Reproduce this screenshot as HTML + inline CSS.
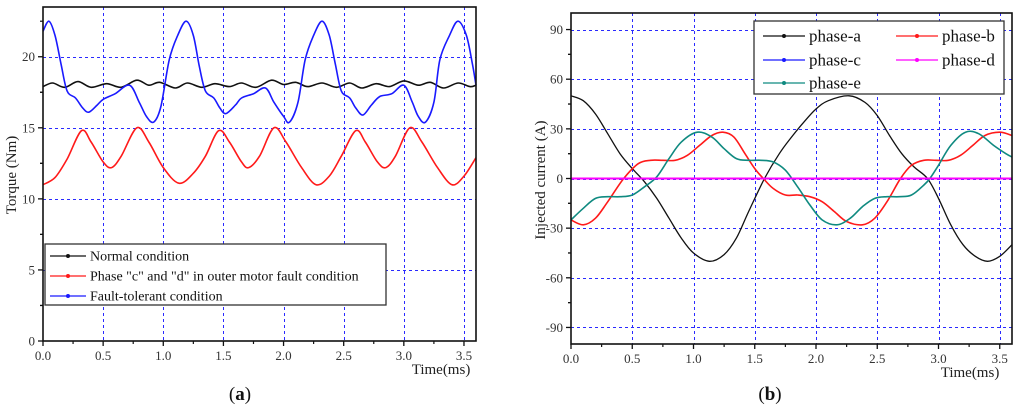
<!DOCTYPE html>
<html><head><meta charset="utf-8"><style>
body{margin:0;background:#fff;}
svg{display:block;font-family:"Liberation Serif",serif;}
</style></head><body>
<svg id="s" width="1024" height="415" viewBox="0 0 1024 415"></svg>
<script>
// ---- Chart (a) data ----
const aXTicks=["0.0","0.5","1.0","1.5","2.0","2.5","3.0","3.5"];
const aYTicks=["0","5","10","15","20"];
const normalT=[0,0.08,0.18,0.29,0.4,0.53,0.65,0.78,0.88,0.97,1.1,1.2,1.32,1.43,1.55,1.65,1.77,1.9,2.0,2.1,2.2,2.32,2.44,2.55,2.65,2.77,2.88,3.0,3.12,3.22,3.33,3.45,3.55,3.6];
const normalV=[17.9,18.15,17.85,18.25,17.85,18.1,17.85,18.35,18.0,18.2,17.8,18.15,17.85,18.1,17.9,18.15,17.85,18.35,18.05,18.2,17.9,18.15,17.85,18.15,17.8,18.1,17.9,18.3,18.0,18.2,17.8,18.15,17.9,18.0];
const faultT=[0,0.1,0.2,0.32,0.4,0.5,0.57,0.65,0.78,0.88,1.0,1.13,1.25,1.35,1.46,1.55,1.65,1.71,1.8,1.92,2.02,2.15,2.27,2.38,2.48,2.6,2.68,2.78,2.85,2.93,3.05,3.15,3.28,3.4,3.5,3.6];
const faultV=[11.0,11.5,12.8,14.8,14.0,12.6,12.2,13.0,15.0,14.0,12.2,11.1,11.8,13.0,14.8,14.0,12.6,12.2,13.0,15.0,14.0,12.2,11.0,11.6,13.0,14.8,14.0,12.6,12.2,13.0,15.0,14.0,12.2,11.0,11.6,12.9];
const tolT=[0,0.05,0.1,0.15,0.2,0.27,0.33,0.38,0.45,0.5,0.6,0.72,0.8,0.86,0.92,0.98,1.05,1.12,1.19,1.25,1.3,1.35,1.42,1.47,1.52,1.6,1.65,1.75,1.85,1.92,2.0,2.05,2.12,2.18,2.25,2.32,2.38,2.43,2.48,2.55,2.6,2.66,2.73,2.8,2.9,3.0,3.07,3.12,3.18,3.25,3.3,3.38,3.45,3.52,3.57,3.6];
const tolV=[21.8,22.5,21.5,19.5,17.6,17.1,16.4,16.1,16.6,17.0,17.4,18.0,16.8,15.8,15.4,16.5,19.8,21.5,22.5,21.5,19.3,17.6,17.1,16.4,16.0,16.6,17.1,17.4,17.8,16.8,15.8,15.4,16.8,19.8,21.5,22.5,21.5,19.5,17.6,17.1,16.4,15.9,16.6,17.2,17.4,18.0,16.8,15.8,15.4,16.8,19.8,21.5,22.5,21.5,19.5,18.0];
// ---- Chart (b) data ----
const bXTicks=["0.0","0.5","1.0","1.5","2.0","2.5","3.0","3.5"];
const bYTicks=["-90","-60","-30","0","30","60","90"];
const paT=[0,0.1,0.2,0.3,0.4,0.5,0.6,0.7,0.8,0.9,1.0,1.13,1.25,1.35,1.45,1.58,1.7,1.8,1.9,2.0,2.1,2.27,2.4,2.5,2.6,2.7,2.8,2.91,3.0,3.1,3.2,3.3,3.4,3.5,3.6];
const paV=[50,47,39,27,15,6,-2,-12,-24,-36,-45,-50,-46,-36,-20,0,15,25,34,42,47,50,46,38,26,15,7,0,-12,-28,-40,-47,-50,-47,-40];
const pbT=[0,0.1,0.2,0.3,0.43,0.55,0.65,0.75,0.85,0.95,1.05,1.15,1.24,1.33,1.42,1.5,1.57,1.65,1.75,1.85,1.95,2.05,2.15,2.25,2.38,2.48,2.58,2.69,2.78,2.88,2.98,3.08,3.18,3.28,3.38,3.5,3.6];
const pbV=[-25,-28,-24,-14,0,9,11,11,11,14,20,26,28,25,15,6,0,-6,-10,-10,-11,-14,-20,-26,-28,-24,-14,0,8,11,11,11,14,20,26,28,26];
const pcT=[0,3.6];
const pcV=[0,0];
const pdT=[0,3.6];
const pdV=[0,0];
const peT=[0,0.1,0.2,0.3,0.4,0.5,0.6,0.7,0.8,0.9,1.03,1.15,1.25,1.35,1.45,1.55,1.65,1.75,1.85,1.95,2.05,2.17,2.28,2.38,2.48,2.58,2.68,2.78,2.88,2.93,3.0,3.1,3.22,3.33,3.45,3.55,3.6];
const peV=[-25,-18,-12,-11,-11,-10,-5,1,12,22,28,25,18,12,11,11,10,5,-5,-16,-25,-28,-24,-17,-12,-11,-11,-10,-4,0,8,20,28,27,20,15,13];

const NS="http://www.w3.org/2000/svg";
const svg=document.getElementById('s');
function el(tag,attrs,parent){const e=document.createElementNS(NS,tag);for(const k in attrs)e.setAttribute(k,attrs[k]);(parent||svg).appendChild(e);return e;}
function smooth(pts){let d="M"+pts[0][0].toFixed(1)+","+pts[0][1].toFixed(1);
 for(let i=0;i<pts.length-1;i++){const p0=pts[Math.max(0,i-1)],p1=pts[i],p2=pts[i+1],p3=pts[Math.min(pts.length-1,i+2)];
  const c1=[p1[0]+(p2[0]-p0[0])/6,p1[1]+(p2[1]-p0[1])/6],c2=[p2[0]-(p3[0]-p1[0])/6,p2[1]-(p3[1]-p1[1])/6];
  d+="C"+c1.join(",")+" "+c2.join(",")+" "+p2[0].toFixed(1)+","+p2[1].toFixed(1);}
 return d;}
const px=v=>Math.round(v)+0.5;

function chart(cfg){
 const g=el('g',{});
 
 
 const X=v=>cfg.L+(v-cfg.x0)/(cfg.x1-cfg.x0)*(cfg.R-cfg.L);
 const Y=v=>cfg.B-(v-cfg.y0)/(cfg.y1-cfg.y0)*(cfg.B-cfg.T);
 cfg.xt.forEach(t=>{const v=parseFloat(t);if(v>cfg.x0){const l=el('line',{x1:px(X(v)),x2:px(X(v)),y1:cfg.T,y2:cfg.B,stroke:'#2a2aff','stroke-width':1,'stroke-dasharray':'3,3','shape-rendering':'crispEdges'},g);
  
  }});
 cfg.yt.forEach(t=>{const v=parseFloat(t);if(v>cfg.y0){const l=el('line',{x1:cfg.L,x2:cfg.R,y1:px(Y(v)),y2:px(Y(v)),stroke:'#2a2aff','stroke-width':1,'stroke-dasharray':'3,3','shape-rendering':'crispEdges'},g);
  
  }});
 cfg.series.forEach(s=>{const pts=s.t.map((t,i)=>[X(t),Y(s.v[i])]);
  const p=el('path',{d:smooth(pts),fill:'none',stroke:s.c,'stroke-width':s.w||1.6},g);
  
  });
 const f=el('rect',{x:cfg.L,y:cfg.T,width:cfg.R-cfg.L,height:cfg.B-cfg.T,fill:'none',stroke:'#111','stroke-width':1.6},g);
 
 
 cfg.xt.forEach((t,i)=>{const v=parseFloat(t),x=X(v);
  el('line',{x1:x,x2:x,y1:cfg.B,y2:cfg.B+5,stroke:'#111','stroke-width':1.3},g);
  const mx=X(v+cfg.xs/2);if(v+cfg.xs/2<cfg.x1)el('line',{x1:mx,x2:mx,y1:cfg.B,y2:cfg.B+3,stroke:'#111','stroke-width':1.2},g);
  const tx=el('text',{x:x,y:cfg.B+19,'text-anchor':'middle','font-size':13,fill:'#333'},g);tx.textContent=t;
  
  });
 cfg.yt.forEach(t=>{const v=parseFloat(t),y=Y(v);
  el('line',{x1:cfg.L-5,x2:cfg.L,y1:y,y2:y,stroke:'#111','stroke-width':1.3},g);
  const my=Y(v+cfg.ys/2);if(v+cfg.ys/2<cfg.y1)el('line',{x1:cfg.L-3,x2:cfg.L,y1:my,y2:my,stroke:'#111','stroke-width':1.2},g);
  if(v-cfg.ys/2>cfg.y0){const my2=Y(v-cfg.ys/2);el('line',{x1:cfg.L-3,x2:cfg.L,y1:my2,y2:my2,stroke:'#111','stroke-width':1.2},g);}
  const tx=el('text',{x:cfg.L-8,y:y+4.5,'text-anchor':'end','font-size':13,fill:'#333'},g);tx.textContent=t;
  
  });
 const xt=el('text',{x:cfg.xtx,y:cfg.B+33,'text-anchor':'middle','font-size':15,fill:'#222'},g);xt.textContent='Time(ms)';
 
 
 const yt=el('text',{x:cfg.ytx,y:cfg.yty,'text-anchor':'middle','font-size':15,fill:'#222',transform:`rotate(-90 ${cfg.ytx} ${cfg.yty})`},g);yt.textContent=cfg.ytitle;
 
 
 const cap=el('text',{x:cfg.capx,y:400,'text-anchor':'middle','font-size':19,fill:'#111'},g);
 cap.innerHTML='(<tspan font-weight="bold">'+cfg.cap+'</tspan>)';
 
 
 return g;
}

chart({name:'torque-chart',L:43,R:476,T:7,B:341,x0:0,x1:3.6,y0:0,y1:23.5,xs:0.5,ys:5,xt:aXTicks,yt:aYTicks,
 xtx:441,ytx:16,yty:175,ytitle:'Torque (Nm)',capx:240,cap:'a',
 series:[{n:'normal',t:normalT,v:normalV,c:'#111'},{n:'fault',t:faultT,v:faultV,c:'#ff1a1a'},{n:'fault-tolerant',t:tolT,v:tolV,c:'#1a1aff'}]});
chart({name:'current-chart',L:571,R:1012,T:13,B:344,x0:0,x1:3.6,y0:-100,y1:100,xs:0.5,ys:30,xt:bXTicks,yt:bYTicks,
 xtx:970,ytx:545,yty:180,ytitle:'Injected current (A)',capx:770,cap:'b',
 series:[{n:'phase-a',t:paT,v:paV,c:'#111',w:1.3},{n:'phase-b',t:pbT,v:pbV,c:'#ff1a1a'},{n:'phase-e',t:peT,v:peV,c:'#0f8a80'},{n:'phase-c',t:pcT,v:pcV,c:'#1a1aff'},{n:'phase-d',t:pdT,v:pdV,c:'#ff00ff',w:2}]});

function legend(name,box,items,fs){
 const g=el('g',{});
 
 
 el('rect',{x:box[0],y:box[1],width:box[2],height:box[3],fill:'#fff',stroke:'#333','stroke-width':1.3},g);
 items.forEach(it=>{const e=el('g',{},g);
  
  
  el('line',{x1:it.x,x2:it.x+it.len,y1:it.y,y2:it.y,stroke:it.c,'stroke-width':1.3},e);
  el('circle',{cx:it.x+it.len/2,cy:it.y,r:2,fill:it.c},e);
  const t=el('text',{x:it.x+it.len+4,y:it.y+fs*0.33,'font-size':fs,fill:'#111'},e);t.textContent=it.label;});
}
legend('torque-legend',[45,244,341,61],[
 {x:50,y:256,len:36,c:'#111',label:'Normal condition'},
 {x:50,y:276,len:36,c:'#ff1a1a',label:'Phase "c" and "d" in outer motor fault condition'},
 {x:50,y:296,len:36,c:'#1a1aff',label:'Fault-tolerant condition'}],14);
legend('current-legend',[754,21,250,73],[
 {x:763,y:36,len:42,c:'#111',label:'phase-a'},
 {x:896,y:36,len:42,c:'#ff1a1a',label:'phase-b'},
 {x:763,y:60,len:42,c:'#1a1aff',label:'phase-c'},
 {x:896,y:60,len:42,c:'#ff00ff',label:'phase-d'},
 {x:763,y:83,len:42,c:'#0f8a80',label:'phase-e'}],17);
</script>
</body></html>
